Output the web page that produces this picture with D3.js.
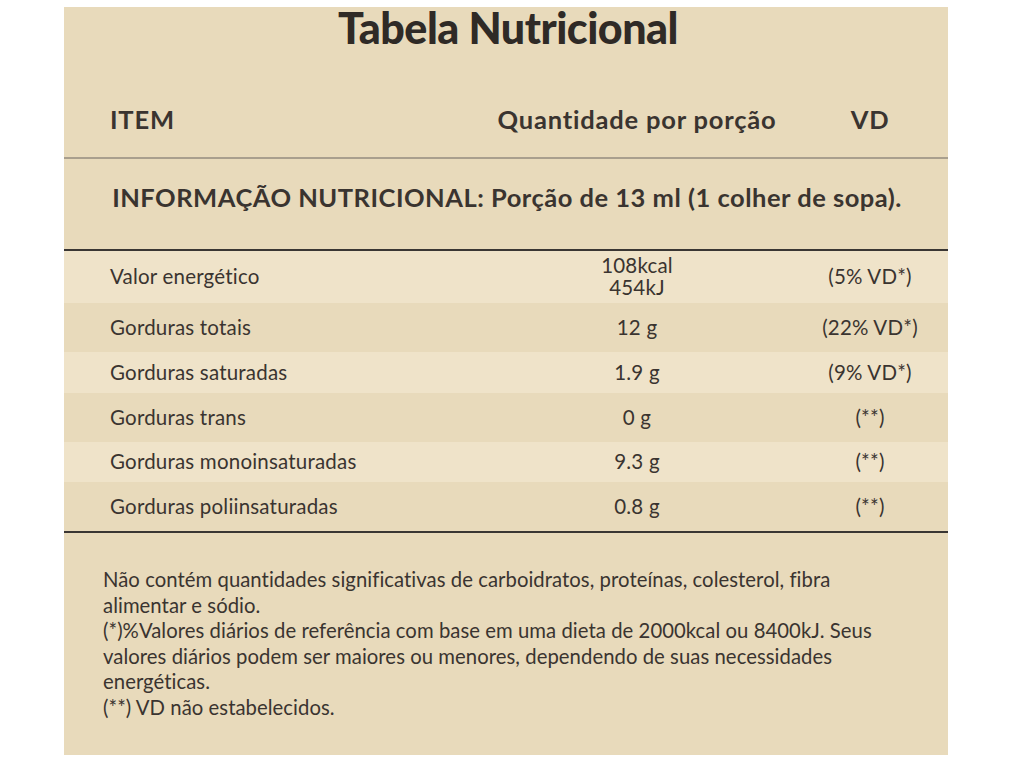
<!DOCTYPE html>
<html><head><meta charset="utf-8">
<script src="https://cdn.jsdelivr.net/npm/d3@7"></script>
<style>body{margin:0;background:#fff}</style>
</head><body>
<svg id="c" width="1013" height="760"></svg>
<script>
const title = 'Tabela Nutricional';
const headers = ['ITEM', 'Quantidade por porção', 'VD'];
const portion = 'INFORMAÇÃO NUTRICIONAL: Porção de 13 ml (1 colher de sopa).';
const items = ['Valor energético', 'Gorduras totais', 'Gorduras saturadas', 'Gorduras trans', 'Gorduras monoinsaturadas', 'Gorduras poliinsaturadas'];
const amounts = [['108kcal', '454kJ'], ['12 g'], ['1.9 g'], ['0 g'], ['9.3 g'], ['0.8 g']];
const vd = ['(5% VD*)', '(22% VD*)', '(9% VD*)', '(**)', '(**)', '(**)'];
const notes = [
  'Não contém quantidades significativas de carboidratos, proteínas, colesterol, fibra',
  'alimentar e sódio.',
  '(*)%Valores diários de referência com base em uma dieta de 2000kcal ou 8400kJ. Seus',
  'valores diários podem ser maiores ou menores, dependendo de suas necessidades',
  'energéticas.',
  '(**) VD não estabelecidos.'
];
const rowEdges = [251, 303, 352, 393, 442, 482, 531];

const svg = d3.select('#c');
const ink = '#3a3430', dark = '#e8dabb', light = '#efe3c9';
const L = 64, R = 948;

svg.append('rect').attr('x', L).attr('y', 7).attr('width', R - L).attr('height', 748).attr('fill', dark);

svg.selectAll('rect.row').data(items).enter().append('rect')
  .attr('x', L).attr('width', R - L)
  .attr('y', (d, i) => rowEdges[i]).attr('height', (d, i) => rowEdges[i + 1] - rowEdges[i])
  .attr('fill', (d, i) => i % 2 ? dark : light);

svg.append('text').attr('x', 508).attr('y', 44).attr('text-anchor', 'middle')
  .attr('font-family', 'Lato').attr('font-weight', 900).attr('font-size', 43)
  .attr('letter-spacing', -0.5).attr('fill', '#2f2a26').text(title);

const hx = [110, 637, 870], ha = ['start', 'middle', 'middle'];
headers.forEach((h, i) => svg.append('text').attr('x', hx[i]).attr('y', 129)
  .attr('text-anchor', ha[i]).attr('font-family', 'Lato').attr('font-weight', 700)
  .attr('font-size', 25.5).attr('letter-spacing', 0.8).attr('fill', ink).text(h));

svg.append('line').attr('x1', L).attr('x2', R).attr('y1', 158).attr('y2', 158).attr('stroke', '#6a6460').attr('stroke-width', 1);
svg.append('text').attr('x', 507).attr('y', 207).attr('text-anchor', 'middle')
  .attr('font-family', 'Lato').attr('font-weight', 700).attr('font-size', 25.5)
  .attr('letter-spacing', 0.5).attr('fill', ink).text(portion);

[250, 532].forEach(y => svg.append('line').attr('x1', L).attr('x2', R).attr('y1', y).attr('y2', y)
  .attr('stroke', '#3a3633').attr('stroke-width', 2));

items.forEach((it, i) => {
  const cy = (rowEdges[i] + rowEdges[i + 1]) / 2;
  const t = s => svg.append('text').attr('font-family', 'Lato').attr('font-size', 20.5)
    .attr('letter-spacing', 0.2).attr('fill', ink).text(s);
  t(it).attr('x', 110).attr('y', cy + 7);
  amounts[i].forEach((a, k) => t(a).attr('x', 637).attr('text-anchor', 'middle')
    .attr('y', cy + 7 + (amounts[i].length > 1 ? (k - 0.5) * 22 : 0)));
  t(vd[i]).attr('x', 870).attr('text-anchor', 'middle').attr('y', cy + 7);
});

notes.forEach((n, i) => svg.append('text').attr('x', 103).attr('y', 587 + i * 25.5)
  .attr('font-family', 'Lato').attr('font-size', 20.3).attr('letter-spacing', 0.05)
  .attr('fill', ink).text(n));
</script>
</body></html>
